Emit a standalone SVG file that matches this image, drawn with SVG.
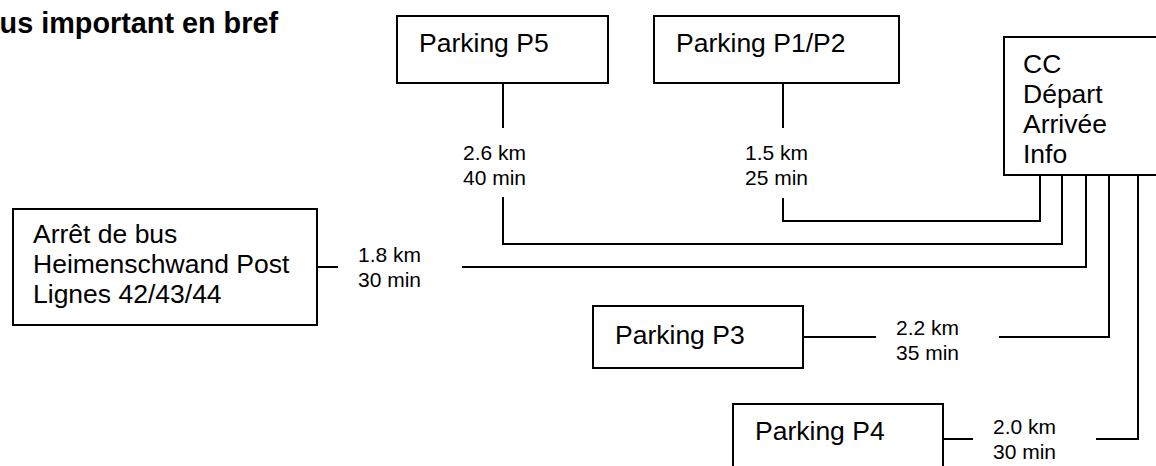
<svg xmlns="http://www.w3.org/2000/svg" width="1156" height="466" viewBox="0 0 1156 466">
<style>
.box{fill:#fff;stroke:#000;stroke-width:2}
.t{font-family:"Liberation Sans",Arial,sans-serif;font-size:26.5px;fill:#000}
.l{font-family:"Liberation Sans",Arial,sans-serif;font-size:21px;fill:#000}
.h{font-family:"Liberation Sans",Arial,sans-serif;font-size:28.8px;font-weight:bold;fill:#000}
.c{fill:none;stroke:#000;stroke-width:2}
</style>
<rect width="1156" height="466" fill="#fff"/>
<text class="h" x="278" y="33" text-anchor="end">us important en bref</text>
<g id="connectors">
<polyline class="c" points="783,83 783,128"/>
<polyline class="c" points="783,198 783,221 1040,221 1040,175"/>
<polyline class="c" points="503,83 503,128"/>
<polyline class="c" points="503,197 503,244 1062,244 1062,175"/>
<polyline class="c" points="317,267 338,267"/>
<polyline class="c" points="462,267 1086,267 1086,175"/>
<polyline class="c" points="803,337 876,337"/>
<polyline class="c" points="999,337 1109,337 1109,175"/>
<polyline class="c" points="943,439 973,439"/>
<polyline class="c" points="1096,439 1138,439 1138,175"/>
<text class="l" x="463" y="160">2.6 km</text>
<text class="l" x="463" y="185">40 min</text>
<text class="l" x="745" y="160">1.5 km</text>
<text class="l" x="745" y="185">25 min</text>
<text class="l" x="358" y="262">1.8 km</text>
<text class="l" x="358" y="287">30 min</text>
<text class="l" x="896" y="335">2.2 km</text>
<text class="l" x="896" y="360">35 min</text>
<text class="l" x="993" y="434">2.0 km</text>
<text class="l" x="993" y="459">30 min</text>
</g>
<g id="p5">
<rect class="box" x="397" y="16" width="211" height="67"/>
<text class="t" x="419" y="52">Parking P5</text>
</g>
<g id="p1p2">
<rect class="box" x="654" y="16" width="245" height="67"/>
<text class="t" x="676" y="52">Parking P1/P2</text>
</g>
<g id="cc">
<rect class="box" x="1004" y="37" width="160" height="138"/>
<text class="t" x="1023" y="73">CC</text>
<text class="t" x="1023" y="103">Départ</text>
<text class="t" x="1023" y="133">Arrivée</text>
<text class="t" x="1023" y="163">Info</text>
</g>
<g id="bus">
<rect class="box" x="13" y="209" width="304" height="116"/>
<text class="t" x="33" y="243">Arrêt de bus</text>
<text class="t" x="33" y="273">Heimenschwand Post</text>
<text class="t" x="33" y="303">Lignes 42/43/44</text>
</g>
<g id="p3">
<rect class="box" x="593" y="306" width="210" height="62"/>
<text class="t" x="615" y="344">Parking P3</text>
</g>
<g id="p4">
<rect class="box" x="733" y="404" width="210" height="80"/>
<text class="t" x="755" y="440">Parking P4</text>
</g>
</svg>
